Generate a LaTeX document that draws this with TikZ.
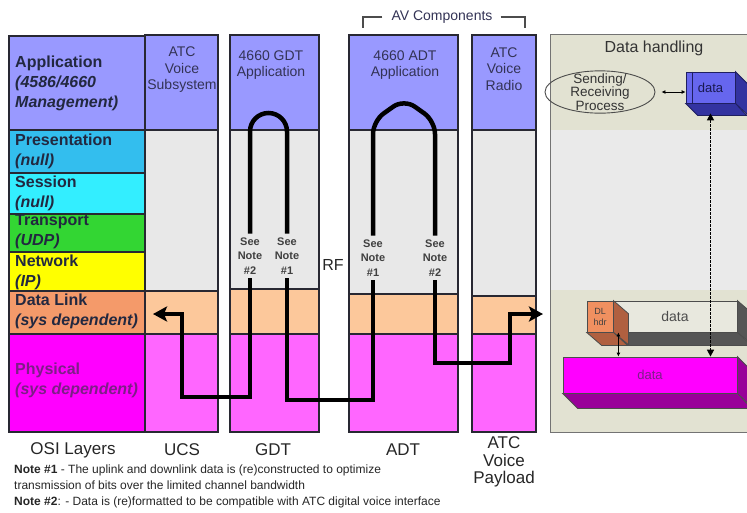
\documentclass[tikz,border=0pt]{standalone}
\usepackage{fontspec}
\setmainfont{Liberation Sans}
\usetikzlibrary{arrows.meta,positioning,shapes.geometric}
\definecolor{appPurple}{RGB}{153,153,255}
\definecolor{presCyan}{RGB}{51,190,238}
\definecolor{sessCyan}{RGB}{51,238,255}
\definecolor{transGreen}{RGB}{51,214,51}
\definecolor{netYellow}{RGB}{255,255,0}
\definecolor{linkOrange}{RGB}{244,154,106}
\definecolor{physMagenta}{RGB}{255,0,255}
\definecolor{colGrey}{RGB}{232,232,232}
\definecolor{colPeach}{RGB}{252,200,155}
\definecolor{colPink}{RGB}{255,102,255}
\definecolor{dhBeige}{RGB}{226,226,210}
\definecolor{dhGrey}{RGB}{234,234,234}
\definecolor{osiText}{RGB}{34,40,64}
\definecolor{hdrText}{RGB}{51,51,85}
\definecolor{physText}{RGB}{125,30,135}
\definecolor{edgeDark}{RGB}{40,40,50}
\definecolor{blueFront}{RGB}{102,102,238}
\definecolor{blueSide}{RGB}{51,51,160}
\definecolor{slabFront}{RGB}{232,232,222}
\definecolor{slabSide}{RGB}{85,85,85}
\definecolor{hdrFront}{RGB}{240,144,96}
\definecolor{hdrSide}{RGB}{176,96,64}
\definecolor{magSide}{RGB}{153,0,153}

\begin{document}
\begin{tikzpicture}[x=1pt,y=-1pt,
  osilabel/.style={anchor=west, align=left, inner sep=0pt, text=osiText,
    font=\fontsize{16}{20}\selectfont\bfseries},
  colhead/.style={align=center, inner sep=0pt, text=hdrText,
    font=\fontsize{14}{16.5}\selectfont},
  notelabel/.style={align=center, inner sep=0pt, outer sep=4pt, text=black!75,
    font=\fontsize{11}{14.5}\selectfont\bfseries},
  footlabel/.style={align=center, inner sep=0pt, text=black!85,
    font=\fontsize{17}{17.5}\selectfont},
  footnote/.style={anchor=west, align=left, inner sep=0pt, text=black!85,
    font=\fontsize{12}{16}\selectfont},
  layer/.style={draw=edgeDark, line width=1.1pt},
  fatline/.style={line width=4.5pt, black},
  fatarrow/.style={fatline, -{Stealth[length=14pt,width=15pt,inset=3pt]}},
  smalllink/.style={line width=1pt, black, {Latex[length=4pt,width=4pt]}-{Latex[length=4pt,width=4pt]}},
  dotlink/.style={line width=1.5pt, black, dash pattern=on 2.5pt off 1.5pt,
    {Triangle[length=7pt,width=7pt]}-{Triangle[length=7pt,width=7pt]}},
  slab/.style={inner sep=0pt, minimum height=31pt, draw=black!70, line width=0.8pt}
]
\clip (0,0) rectangle (747,512);

% OSI stack
\foreach \t/\b/\c in {36/130/appPurple,130/173/presCyan,173/214/sessCyan,
  214/252/transGreen,252/291/netYellow,291/334/linkOrange,334/432/physMagenta}
  \filldraw[layer, fill=\c] (9,\t) rectangle (145,\b);

% system columns
\foreach \l/\r/\g in {145/218/291,230/319/289,349/458/294,472/536/296}{
  \filldraw[layer, fill=appPurple] (\l,35) rectangle (\r,130);
  \filldraw[layer, fill=colGrey] (\l,130) rectangle (\r,\g);
  \filldraw[layer, fill=colPeach] (\l,\g) rectangle (\r,334);
  \filldraw[layer, fill=colPink] (\l,334) rectangle (\r,432);
}

% data handling panel
\fill[dhBeige] (550,34) rectangle (760,130);
\fill[dhGrey] (550,130) rectangle (760,290);
\fill[dhBeige] (550,290) rectangle (760,432);
\draw[black!55, line width=1pt] (760,34) -- (550,34) -- (550,432) -- (760,432);

\node[osilabel] (appLbl) at (15,83) {Application\\\textit{(4586/4660}\\\textit{Management)}};
\node[osilabel] (presLbl) at (15,151) {Presentation\\\textit{(null)}};
\node[osilabel] (sessLbl) at (15,193) {Session\\\textit{(null)}};
\node[osilabel] (transLbl) at (15,232) {Transport\\\textit{(UDP)}};
\node[osilabel] (netLbl) at (15,272) {Network\\\textit{(IP)}};
\node[osilabel] (linkLbl) at (15,311) {Data Link\\\textit{(sys dependent)}};
\node[osilabel, text=physText] (physLbl) at (15,380) {Physical\\\textit{(sys dependent)}};

\node[colhead] (ucsHead) at (182,70) {ATC\\Voice\\Subsystem};
\node[colhead] (gdtHead) at (271,65) {4660 GDT\\Application};
\node[colhead] (adtHead) at (405,65) {4660 ADT\\Application};
\node[colhead] (atcHead) at (504,69) {ATC\\Voice\\Radio};
\node[colhead] (avHead) at (442,17) {AV Components};
\coordinate (avLeft) at (363,28);
\coordinate (avRight) at (525,28);
\draw[black!70, line width=1.3pt] ([xshift=-9pt]avHead.west) -| (avLeft);
\draw[black!70, line width=1.3pt] ([xshift=8pt]avHead.east) -| (avRight);

\node[footlabel, font=\fontsize{16}{17.5}\selectfont] (rfLbl) at (333,265) {RF};

% note markers on the links
\node[notelabel] (gdtNoteB) at (250,256) {See\\Note\\\#2};
\node[notelabel] (gdtNoteA) at (287,256) {See\\Note\\\#1};
\node[notelabel] (adtNoteA) at (373,258) {See\\Note\\\#1};
\node[notelabel] (adtNoteB) at (435,258) {See\\Note\\\#2};

\coordinate (gdtTop) at (268,113);
\coordinate (adtArchL) at (373,121);
\coordinate (adtTop) at (404,99);
\coordinate (adtArchR) at (435,121);
\coordinate (ucsTurn) at (182,397);
\coordinate (ucsTip) at (153,314);
\coordinate (rfLow) at (330,400);
\coordinate (atcLow) at (510,363);
\coordinate (dhTip) at (543,314);

\draw[fatline, rounded corners=18.5pt] (gdtNoteB.north) -- (gdtNoteB.north |- gdtTop)
  -- (gdtNoteA.north |- gdtTop) -- (gdtNoteA.north);
\draw[fatline, rounded corners=13pt] (adtNoteA.north) -- (adtArchL) -- (adtTop)
  -- (adtArchR) -- (adtNoteB.north);
\draw[fatarrow] (gdtNoteB.south) |- (ucsTurn) |- (ucsTip);
\draw[fatline] (gdtNoteA.south) |- (rfLow) -| (adtNoteA.south);
\draw[fatarrow] (adtNoteB.south) |- (atcLow) |- (dhTip);

% data handling contents
\node[colhead, text=black!80, font=\fontsize{16}{18}\selectfont] (dhTitle) at (654,48) {Data handling};
\node[ellipse, draw=black!70, line width=0.9pt, minimum width=110pt, inner xsep=0pt,
  inner ysep=-3.5pt, align=center, text=black!80, font=\fontsize{13.5}{13.5}\selectfont]
  (proc) at (600,92) {Sending/\\Receiving\\Process};

\node[slab, fill=blueFront, draw=blueSide!60!black, minimum width=49pt,
  text=blueSide!50!black, font=\fontsize{13}{13}\selectfont] (dataTop) at (710.5,87.5) {data};
\filldraw[fill=blueSide, draw=blueSide!60!black, line width=0.8pt] (dataTop.north east)
  -- ++(12,12) -- ++(0,31) -- (dataTop.south east) -- cycle;
\filldraw[fill=blueSide, draw=blueSide!60!black, line width=0.8pt] (dataTop.south west)
  -- ++(12,12) -- ++(49,0) -- (dataTop.south east) -- cycle;
\draw[blueSide!60!black, line width=0.8pt] ([xshift=7pt]dataTop.north west) -- ([xshift=7pt]dataTop.south west);

\node[slab, fill=slabFront, minimum width=124pt, text=black!70,
  font=\fontsize{14}{14}\selectfont] (dlData) at (675,316.5) {data};
\filldraw[fill=slabSide, draw=black!70, line width=0.8pt] (dlData.north east)
  -- ++(15,13) -- ++(0,31) -- (dlData.south east) -- cycle;
\filldraw[fill=slabSide, draw=black!70, line width=0.8pt] (dlData.south west)
  -- ++(15,13) -- ++(124,0) -- (dlData.south east) -- cycle;

\node[slab, fill=hdrFront, minimum width=26pt, align=center, text=black!75,
  font=\fontsize{9}{11}\selectfont] (dlHdr) at (600,316.5) {DL\\hdr};
\filldraw[fill=hdrSide, draw=black!70, line width=0.8pt] (dlHdr.north east)
  -- ++(15,13) -- ++(0,31) -- (dlHdr.south east) -- cycle;
\filldraw[fill=hdrSide, draw=black!70, line width=0.8pt] (dlHdr.south west)
  -- ++(15,13) -- ++(26,0) -- (dlHdr.south east) -- cycle;

\node[slab, fill=physMagenta, minimum width=174pt, minimum height=36pt, text=physText,
  font=\fontsize{13}{13}\selectfont] (dataBot) at (650,375) {data};
\filldraw[fill=magSide, draw=black!70, line width=0.8pt] (dataBot.north east)
  -- ++(15,15) -- ++(0,36) -- (dataBot.south east) -- cycle;
\filldraw[fill=magSide, draw=black!70, line width=0.8pt] (dataBot.south west)
  -- ++(15,15) -- ++(174,0) -- (dataBot.south east) -- cycle;

\draw[smalllink, shorten <=6pt] (proc.east) -- (proc.east -| dataTop.west);
\draw[smalllink] ([xshift=5pt]dlHdr.south east) -- ([xshift=5pt]dlHdr.south east |- dataBot.north);
\draw[dotlink] ([yshift=-10pt]dataTop.south) -- (dataTop.south |- dataBot.north);

% footer
\node[footlabel] (osiFoot) at (73,450) {OSI Layers};
\node[footlabel] (ucsFoot) at (182,450) {UCS};
\node[footlabel] (gdtFoot) at (273,450) {GDT};
\node[footlabel] (adtFoot) at (403,450) {ADT};
\node[footlabel] (atcFoot) at (504,462) {ATC\\Voice\\Payload};
\node[footnote] (noteOne) at (14,477.5) {\textbf{Note \#1} - The uplink and downlink data is (re)constructed to optimize\\
  transmission of bits over the limited channel bandwidth};
\node[footnote] (noteTwo) at (14,502) {\textbf{Note \#2}: - Data is (re)formatted to be compatible with ATC digital voice interface};
\end{tikzpicture}
\end{document}
